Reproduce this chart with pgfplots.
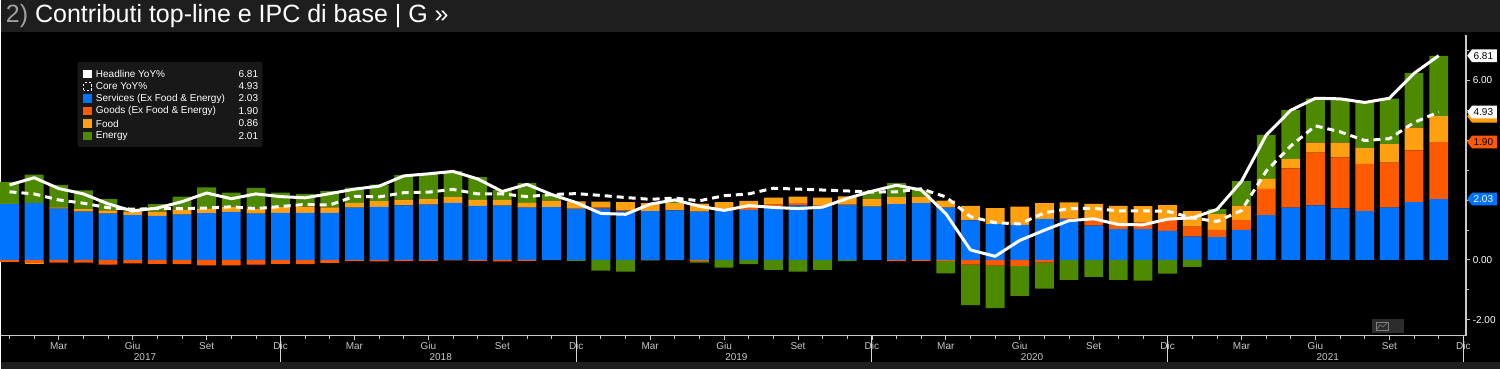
\documentclass[border=0pt]{standalone}
\usepackage{pgfplots}
\pgfplotsset{compat=1.18}
\usepackage{pgfplotstable}
\usepackage{fontspec}
\setmainfont{Liberation Sans}

\definecolor{cSvc}{HTML}{0073FF}
\definecolor{cGds}{HTML}{FF5A00}
\definecolor{cFood}{HTML}{FFA010}
\definecolor{cNrg}{HTML}{4E8A00}
\definecolor{axgray}{HTML}{C8C8C8}
\definecolor{barbg}{HTML}{1E1E1E}
\definecolor{iconbg}{HTML}{2C2C2C}
\definecolor{legbg}{HTML}{181818}

\newcommand\tickfont{\fontsize{5}{6}\selectfont}

\pgfplotstableread{
i svc gds food nrg head core
0 1.86 -0.07 0.01 0.73 2.50 2.27
1 1.89 -0.11 -0.03 0.95 2.74 2.20
2 1.71 -0.09 0.04 0.75 2.38 2.00
3 1.61 -0.09 0.08 0.63 2.20 1.89
4 1.54 -0.16 0.11 0.38 1.87 1.74
5 1.49 -0.12 0.12 0.10 1.63 1.69
6 1.47 -0.13 0.14 0.25 1.73 1.71
7 1.51 -0.14 0.16 0.44 1.94 1.71
8 1.56 -0.18 0.14 0.72 2.23 1.73
9 1.60 -0.18 0.18 0.46 2.04 1.77
10 1.54 -0.16 0.17 0.69 2.20 1.71
11 1.57 -0.13 0.19 0.48 2.11 1.78
12 1.57 -0.14 0.21 0.42 2.07 1.85
13 1.57 -0.10 0.18 0.54 2.21 1.83
14 1.74 -0.04 0.16 0.51 2.36 2.12
15 1.77 -0.05 0.19 0.55 2.46 2.10
16 1.82 -0.04 0.19 0.82 2.80 2.24
17 1.84 -0.03 0.19 0.86 2.87 2.26
18 1.90 -0.02 0.19 0.88 2.95 2.35
19 1.80 -0.03 0.20 0.76 2.70 2.20
20 1.81 -0.05 0.19 0.33 2.28 2.20
21 1.74 -0.03 0.16 0.66 2.52 2.11
22 1.76 -0.01 0.22 0.21 2.18 2.18
23 1.70 0.01 0.24 -0.03 1.91 2.21
24 1.71 0.03 0.20 -0.36 1.55 2.15
25 1.62 0.03 0.28 -0.39 1.52 2.08
26 1.63 -0.01 0.26 -0.01 1.86 2.02
27 1.65 -0.01 0.24 0.12 2.00 2.06
28 1.61 -0.03 0.27 -0.06 1.79 1.97
29 1.63 0.01 0.29 -0.26 1.65 2.14
30 1.67 0.06 0.24 -0.14 1.81 2.20
31 1.78 0.06 0.24 -0.33 1.75 2.39
32 1.82 0.07 0.22 -0.39 1.71 2.36
33 1.80 0.03 0.25 -0.33 1.76 2.33
34 1.83 0.01 0.28 -0.04 2.05 2.30
35 1.78 0.00 0.26 0.25 2.29 2.26
36 1.86 -0.04 0.23 0.47 2.49 2.27
37 1.89 -0.03 0.22 0.22 2.33 2.37
38 1.74 -0.03 0.24 -0.42 1.54 2.10
39 1.32 -0.16 0.48 -1.35 0.33 1.44
40 1.19 -0.19 0.54 -1.42 0.12 1.24
41 1.17 -0.20 0.61 -1.00 0.65 1.20
42 1.37 -0.09 0.52 -0.87 0.99 1.57
43 1.36 0.03 0.53 -0.67 1.31 1.71
44 1.14 0.19 0.54 -0.57 1.37 1.72
45 1.03 0.16 0.61 -0.67 1.18 1.63
46 1.03 0.24 0.52 -0.69 1.17 1.64
47 0.97 0.37 0.49 -0.46 1.36 1.62
48 0.78 0.33 0.52 -0.23 1.40 1.40
49 0.76 0.24 0.53 0.16 1.68 1.28
50 1.00 0.33 0.48 0.82 2.62 1.65
51 1.49 0.88 0.33 1.47 4.16 2.96
52 1.74 1.31 0.31 1.63 4.99 3.80
53 1.82 1.76 0.33 1.48 5.39 4.47
54 1.72 1.70 0.49 1.48 5.37 4.27
55 1.63 1.57 0.53 1.54 5.25 3.98
56 1.74 1.50 0.62 1.52 5.39 4.04
57 1.93 1.72 0.76 1.83 6.22 4.58
58 2.03 1.90 0.86 2.01 6.81 4.93
}\contrib

\pgfplotsset{
  base/.style={
    at={(0pt,16.5pt)}, anchor=south west, scale only axis,
    width=733pt, height=150.5pt,
    xmin=-0.361, xmax=59.11, ymin=-2.533, ymax=7.5,
    enlargelimits=false, clip=false},
  barax/.style={base, hide axis, ybar stacked, bar width=9.4pt},
}

\begin{document}
\begin{tikzpicture}
% background, title bar, bottom strip
\fill[black] (0,0) rectangle (750pt,184.5pt);
\fill[barbg] (0,168.5pt) rectangle (750pt,184.5pt);
\fill[barbg] (0,0) rectangle (750pt,3.5pt);
\node[anchor=west, inner sep=0pt, text=white,
      font=\fontsize{12.5}{14}\selectfont] at (2.5pt,176.5pt)
  {\textcolor{gray!75}{2)} Contributi top-line e IPC di base | G »};

% positive contributions
\begin{axis}[barax]
\addplot[fill=cSvc, draw=none] table[x=i, y expr={max(\thisrow{svc},0)}] {\contrib};
\addplot[fill=cGds, draw=none] table[x=i, y expr={max(\thisrow{gds},0)}] {\contrib};
\addplot[fill=cFood, draw=none] table[x=i, y expr={max(\thisrow{food},0)}] {\contrib};
\addplot[fill=cNrg, draw=none] table[x=i, y expr={max(\thisrow{nrg},0)}] {\contrib};
\end{axis}

% negative contributions
\begin{axis}[barax]
\addplot[fill=cGds, draw=none] table[x=i, y expr={min(\thisrow{gds},0)}] {\contrib};
\addplot[fill=cFood, draw=none] table[x=i, y expr={min(\thisrow{food},0)}] {\contrib};
\addplot[fill=cNrg, draw=none] table[x=i, y expr={min(\thisrow{nrg},0)}] {\contrib};
\end{axis}

% lines and axes
\begin{axis}[base,
  axis x line*=bottom, axis y line*=right,
  axis line style={draw=axgray, line width=0.6pt},
  tick align=outside, major tick length=2.2pt, minor tick length=1.6pt,
  tick style={draw=axgray, line width=0.4pt},
  xtick={2,5,...,59},
  xticklabels={Mar,Giu,Set,Dic,Mar,Giu,Set,Dic,Mar,Giu,Set,Dic,Mar,Giu,Set,Dic,Mar,Giu,Set,Dic},
  minor xtick={0,...,59},
  xticklabel style={font=\tickfont, text=axgray, inner sep=1pt},
  ytick={-2,0,2,4,6},
  yticklabels={{-2.00},{0.00},{2.00},{4.00},{6.00}},
  minor ytick={-1,1,3,5,7},
  yticklabel style={font=\tickfont, text=white, inner sep=1pt},
]
\addplot[white, line width=1.5pt, mark=none, line join=round] table[x=i, y=head] {\contrib};
\addplot[white, line width=1.5pt, mark=none, dash pattern=on 3.5pt off 2.5pt] table[x=i, y=core] {\contrib};
% year separators and year labels
\draw[axgray!70, line width=0.5pt] (axis cs:11,-2.533) -- ++(0pt,-13pt);
\draw[axgray!70, line width=0.5pt] (axis cs:23,-2.533) -- ++(0pt,-13pt);
\draw[axgray!70, line width=0.5pt] (axis cs:35,-2.533) -- ++(0pt,-13pt);
\draw[axgray!70, line width=0.5pt] (axis cs:47,-2.533) -- ++(0pt,-13pt);
\draw[axgray!70, line width=0.5pt] (axis cs:59,-2.533) -- ++(0pt,-13pt);
\node[font=\tickfont, text=axgray] at ([yshift=-10.5pt]axis cs:5.5,-2.533) {2017};
\node[font=\tickfont, text=axgray] at ([yshift=-10.5pt]axis cs:17.5,-2.533) {2018};
\node[font=\tickfont, text=axgray] at ([yshift=-10.5pt]axis cs:29.5,-2.533) {2019};
\node[font=\tickfont, text=axgray] at ([yshift=-10.5pt]axis cs:41.5,-2.533) {2020};
\node[font=\tickfont, text=axgray] at ([yshift=-10.5pt]axis cs:53.5,-2.533) {2021};
\coordinate (tFood) at (axis cs:59.11,4.79);
\coordinate (tCore) at (axis cs:59.11,4.93);
\coordinate (tHead) at (axis cs:59.11,6.81);
\coordinate (tGds) at (axis cs:59.11,3.93);
\coordinate (tSvc) at (axis cs:59.11,2.03);
\end{axis}

% value tags on the right axis
\newcommand\tagshape[2]{%
  \fill[#2] ([xshift=0.6pt]#1) -- ++(2.4pt,3.2pt) -- ++(12.4pt,0pt) -- ++(0pt,-6.4pt) -- ++(-12.4pt,0pt) -- cycle;}
\newcommand\valtag[4]{%
  \tagshape{#1}{#2}%
  \node[anchor=west, inner sep=0pt, text=#3, font=\tickfont] at ([xshift=3.6pt]#1) {#4};}
\tagshape{tFood}{cFood}
\valtag{tCore}{white}{black}{4.93}
\valtag{tHead}{white}{black}{6.81}
\valtag{tGds}{cGds}{black}{1.90}
\valtag{tSvc}{cSvc}{white}{2.03}

% small chart icon
\fill[iconbg] (686pt,18pt) rectangle (702pt,25pt);
\draw[gray, line width=0.3pt] (688pt,19.5pt) rectangle (694pt,23.5pt);
\draw[gray, line width=0.3pt] (688.5pt,20pt) -- (690pt,22pt) -- (691.5pt,21pt) -- (693.5pt,23pt);

% legend
\fill[legbg, rounded corners=1pt] (38.5pt,111pt) rectangle (131pt,153.5pt);
\fill[white] (41.4pt,145.4pt) rectangle ++(4.2pt,4.2pt);
\draw[white, line width=0.5pt, dash pattern=on 1.2pt off 0.9pt] (41.6pt,139.4pt) rectangle ++(3.8pt,3.8pt);
\fill[cSvc] (41.4pt,133.15pt) rectangle ++(4.2pt,4.2pt);
\fill[cGds] (41.4pt,126.9pt) rectangle ++(4.2pt,4.2pt);
\fill[cFood] (41.4pt,120.65pt) rectangle ++(4.2pt,4.2pt);
\fill[cNrg] (41.4pt,114.4pt) rectangle ++(4.2pt,4.2pt);
\begin{scope}[every node/.style={inner sep=0pt, text=white, font=\tickfont}]
\node[anchor=west] at (47.5pt,147.5pt) {Headline YoY\%};
\node[anchor=west] at (47.5pt,141.3pt) {Core YoY\%};
\node[anchor=west] at (47.5pt,135.25pt) {Services (Ex Food \& Energy)};
\node[anchor=west] at (47.5pt,129pt) {Goods (Ex Food \& Energy)};
\node[anchor=west] at (47.5pt,122.75pt) {Food};
\node[anchor=west] at (47.5pt,116.5pt) {Energy};
\node[anchor=east] at (129pt,147.5pt) {6.81};
\node[anchor=east] at (129pt,141.3pt) {4.93};
\node[anchor=east] at (129pt,135.25pt) {2.03};
\node[anchor=east] at (129pt,129pt) {1.90};
\node[anchor=east] at (129pt,122.75pt) {0.86};
\node[anchor=east] at (129pt,116.5pt) {2.01};
\end{scope}
\end{tikzpicture}
\end{document}
